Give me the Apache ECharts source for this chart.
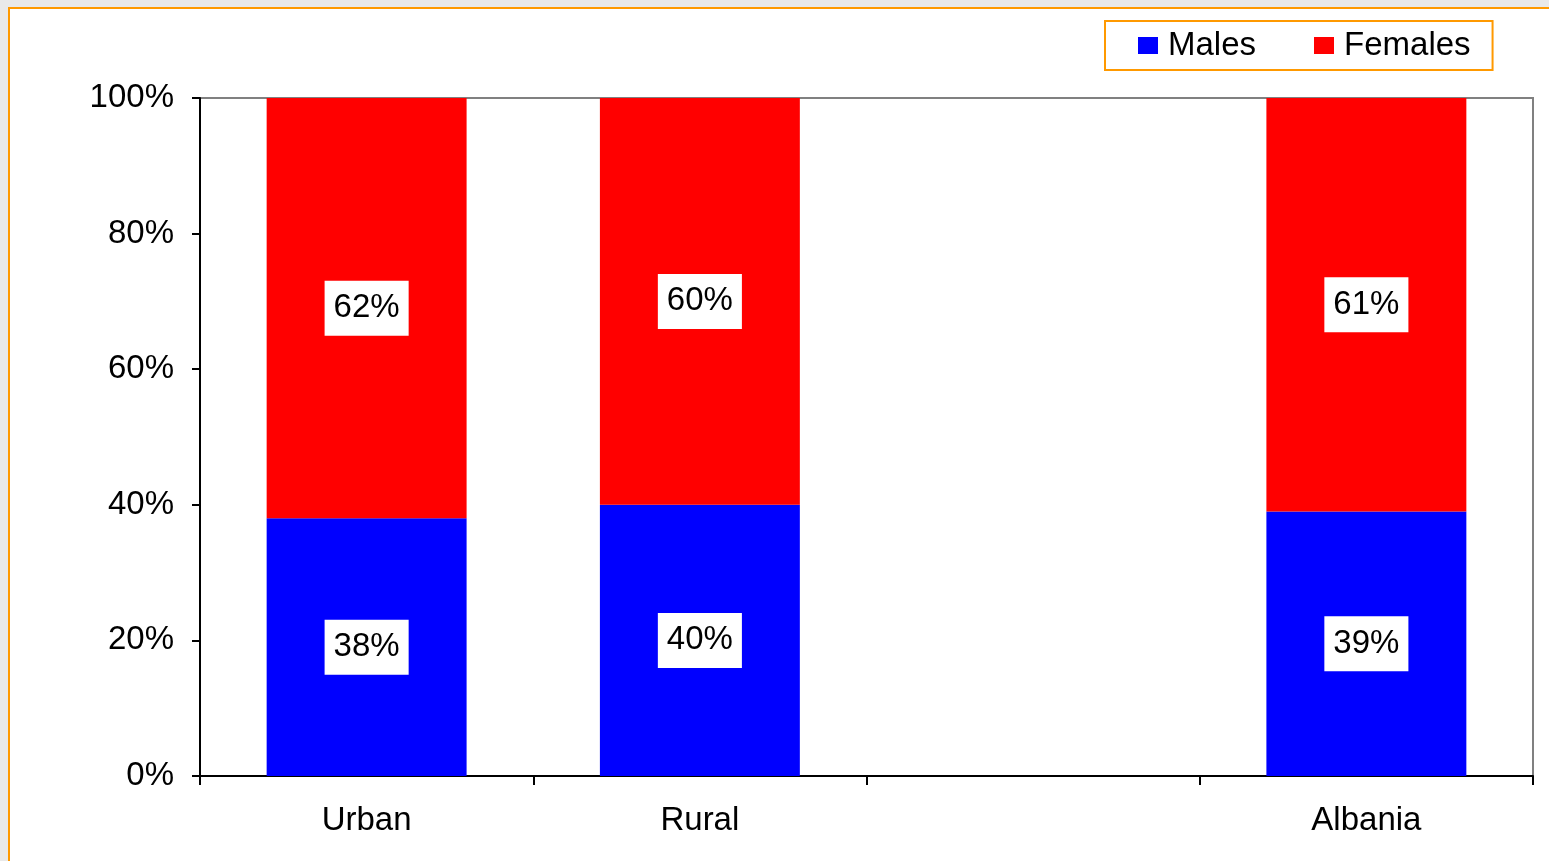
<!DOCTYPE html>
<html>
<head>
<meta charset="utf-8">
<script src="https://cdn.jsdelivr.net/npm/echarts@6/dist/echarts.min.js"></script>
<style>
  html, body { margin: 0; padding: 0; background: #e9e9e9; overflow: hidden; }
  #frame {
    position: absolute; left: 8px; top: 7px; width: 1600px; height: 900px;
    border: 2px solid #ff9900; background: #fff;
  }
  #chart { position: absolute; left: 0; top: 0; width: 1549px; height: 861px; }
</style>
</head>
<body>
<div id="frame"></div>
<div id="chart"></div>
<script>
const categories = ['Urban', 'Rural', '', 'Albania']
const males = [38, 40, '-', 39]
const females = [62, 60, '-', 61]
const yTicks = { min: 0, max: 100, interval: 20 }

const font = "'Liberation Sans', Arial, sans-serif"

const barLabel = {
  show: true,
  position: 'inside',
  formatter: '{c}%',
  color: '#000',
  fontSize: 33,
  fontFamily: font,
  backgroundColor: '#fff',
  padding: [11, 9]
}

const chart = echarts.init(document.getElementById('chart'))
chart.setOption({
  animation: false,
  textStyle: { fontFamily: font },
  legend: {
    left: 1105,
    top: 21,
    padding: [8, 22, 8, 33],
    borderColor: '#ff9900',
    borderWidth: 2,
    backgroundColor: '#fff',
    itemWidth: 20,
    itemHeight: 17,
    itemGap: 58,
    icon: 'rect',
    textStyle: { fontSize: 33, color: '#000', fontFamily: font, padding: [0, 0, 0, 5] },
    data: ['Males', 'Females']
  },
  grid: {
    left: 200,
    right: 16,
    top: 98,
    bottom: 85,
    show: true,
    backgroundColor: '#fff',
    borderColor: '#808080',
    borderWidth: 2
  },
  xAxis: {
    type: 'category',
    data: categories,
    axisLine: { show: true, lineStyle: { color: '#000', width: 2 } },
    axisTick: { show: true, alignWithLabel: false, length: 9, lineStyle: { color: '#000', width: 2 }, interval: 0 },
    axisLabel: { fontSize: 33, color: '#000', margin: 28, fontFamily: font, interval: 0 }
  },
  yAxis: {
    type: 'value',
    min: yTicks.min,
    max: yTicks.max,
    interval: yTicks.interval,
    axisLine: { show: true, lineStyle: { color: '#000', width: 2 } },
    axisTick: { show: true, length: 8, lineStyle: { color: '#000', width: 2 } },
    axisLabel: { formatter: '{value}%', fontSize: 33, color: '#000', margin: 26, fontFamily: font },
    splitLine: { show: false }
  },
  series: [{
    name: 'Males',
    type: 'bar',
    stack: 'total',
    barWidth: '60%',
    itemStyle: { color: '#0000ff' },
    label: barLabel,
    data: males
  }, {
    name: 'Females',
    type: 'bar',
    stack: 'total',
    barWidth: '60%',
    itemStyle: { color: '#ff0000' },
    label: barLabel,
    data: females
  }]
})
</script>
</body>
</html>
